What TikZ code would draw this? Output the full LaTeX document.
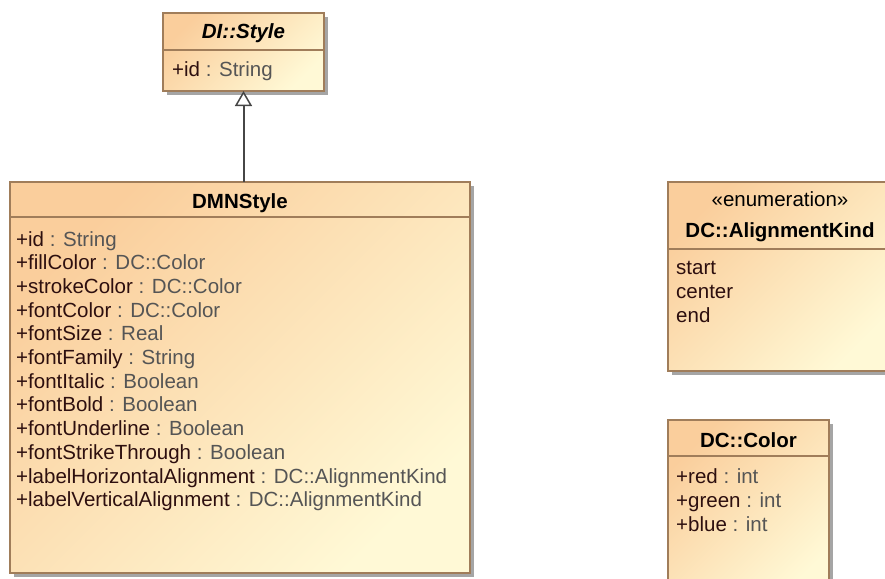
\documentclass[tikz,border=0pt]{standalone}
\usepackage{fontspec}
\setmainfont{Liberation Sans}
\usetikzlibrary{arrows.meta,shadows}
\definecolor{umlA}{RGB}{250,206,156}
\definecolor{umlB}{RGB}{255,249,214}
\definecolor{umlborder}{RGB}{160,125,90}
\definecolor{umlshadow}{RGB}{165,165,165}
\definecolor{attrname}{RGB}{45,15,15}
\definecolor{attrtype}{RGB}{85,85,85}
\definecolor{linkcol}{RGB}{70,70,70}
\newcommand\umlattr[2]{\textcolor{attrname}{#1} \textcolor{attrtype}{: #2}}
\begin{document}
\begin{tikzpicture}[x=1pt,y=-1pt,
  classbox/.style={draw=umlborder, line width=1.2pt, top color=umlA, bottom color=umlB, shading angle=45,
    drop shadow={shadow xshift=4pt, shadow yshift=-4pt, fill=umlshadow, opacity=1},
    inner sep=0pt, outer sep=0pt, anchor=north west},
  sepline/.style={draw=umlborder, line width=1.2pt},
  attr/.style={anchor=base west, inner sep=0pt, font=\fontsize{20.5}{24}\selectfont},
  title/.style={anchor=base, inner sep=0pt, font=\fontsize{20.5}{24}\selectfont\bfseries},
  inherit/.style={draw=linkcol, line width=2pt, -{Triangle[open, width=17pt, length=15pt, fill=white, line width=1.5pt]}}
]
\useasboundingbox (0,0) rectangle (885,578);

% DI::Style
\node[classbox, minimum width=161pt, minimum height=78pt] (style) at (163,13) {};
\draw[sepline] (style.west |- 0,50) -- (style.east |- 0,50);
\node[title, font=\fontsize{20.5}{24}\selectfont\bfseries\itshape] (styleT) at (style.north |- 0,39) {DI::Style};
\node[attr] (styleA1) at (172,76) {\umlattr{+id}{String}};

% DMNStyle
\node[classbox, minimum width=460pt, minimum height=391pt] (dmn) at (10,182) {};
\draw[sepline] (dmn.west |- 0,217) -- (dmn.east |- 0,217);
\node[title] (dmnT) at (dmn.north |- 0,208) {DMNStyle};
\node[attr] (d1) at (16,246.0) {\umlattr{+id}{String}};
\node[attr] (d2) at (16,269.7) {\umlattr{+fillColor}{DC::Color}};
\node[attr] (d3) at (16,293.4) {\umlattr{+strokeColor}{DC::Color}};
\node[attr] (d4) at (16,317.1) {\umlattr{+fontColor}{DC::Color}};
\node[attr] (d5) at (16,340.8) {\umlattr{+fontSize}{Real}};
\node[attr] (d6) at (16,364.5) {\umlattr{+fontFamily}{String}};
\node[attr] (d7) at (16,388.2) {\umlattr{+fontItalic}{Boolean}};
\node[attr] (d8) at (16,411.9) {\umlattr{+fontBold}{Boolean}};
\node[attr] (d9) at (16,435.6) {\umlattr{+fontUnderline}{Boolean}};
\node[attr] (d10) at (16,459.3) {\umlattr{+fontStrikeThrough}{Boolean}};
\node[attr] (d11) at (16,483.0) {\umlattr{+labelHorizontalAlignment}{DC::AlignmentKind}};
\node[attr] (d12) at (16,506.7) {\umlattr{+labelVerticalAlignment}{DC::AlignmentKind}};

% DC::AlignmentKind
\node[classbox, minimum width=226pt, minimum height=189pt] (enum) at (668,182) {};
\draw[sepline] (enum.west |- 0,249) -- (enum.east |- 0,249);
\node[title, font=\fontsize{20.5}{24}\selectfont] (enumS) at (780,206) {«enumeration»};
\node[title] (enumT) at (780,237) {DC::AlignmentKind};
\node[attr, text=attrname] (e1) at (676,274) {start};
\node[attr, text=attrname] (e2) at (676,298) {center};
\node[attr, text=attrname] (e3) at (676,322) {end};

% DC::Color
\node[classbox, minimum width=161pt, minimum height=180pt] (color) at (668,420) {};
\draw[sepline] (color.west |- 0,456) -- (color.east |- 0,456);
\node[title] (colorT) at (color.north |- 0,447) {DC::Color};
\node[attr] (c1) at (676,483) {\umlattr{+red}{int}};
\node[attr] (c2) at (676,507) {\umlattr{+green}{int}};
\node[attr] (c3) at (676,531) {\umlattr{+blue}{int}};

% generalization
\draw[inherit] (style.south |- dmn.north) -- (style.south);
\end{tikzpicture}
\end{document}
